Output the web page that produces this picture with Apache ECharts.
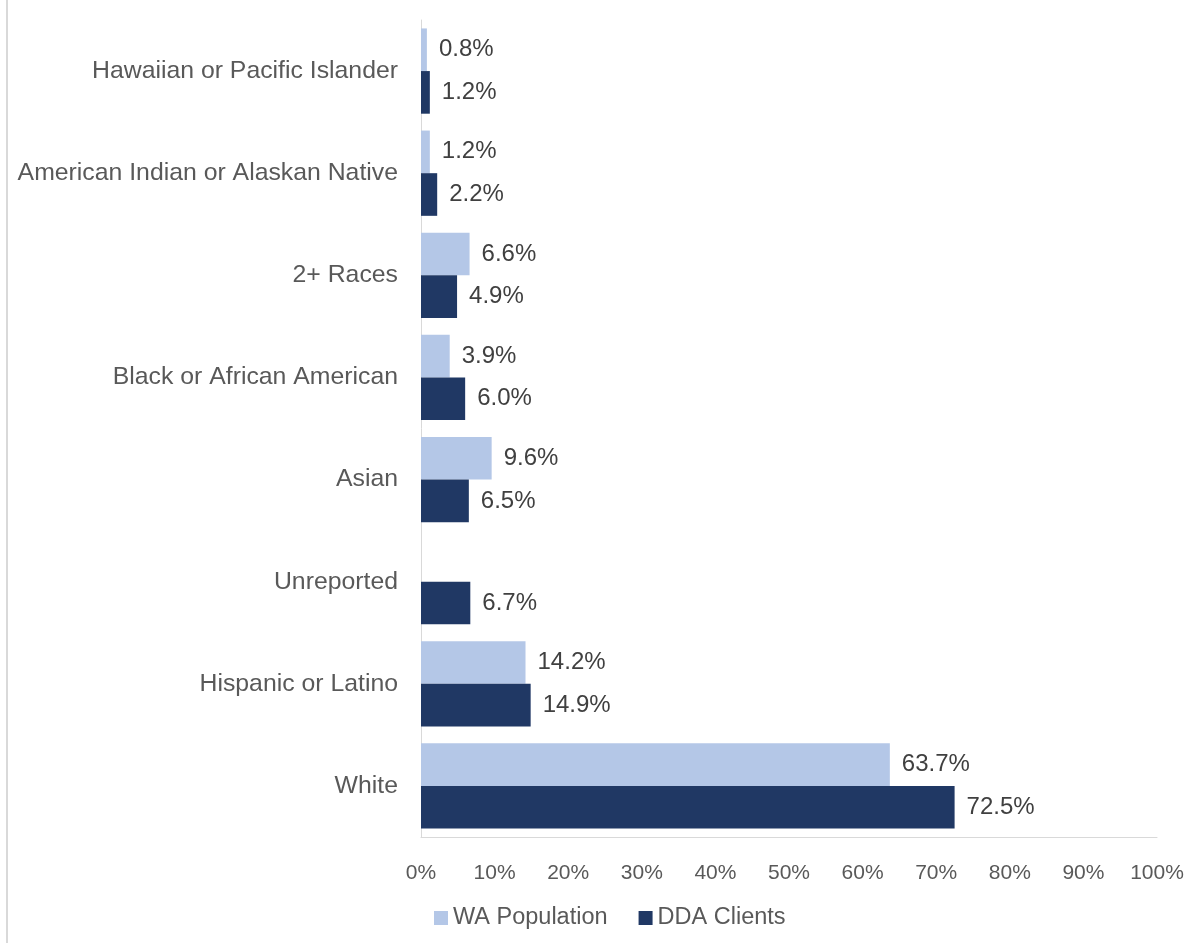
<!DOCTYPE html>
<html>
<head>
<meta charset="utf-8">
<script src="https://cdn.jsdelivr.net/npm/echarts@6/dist/echarts.min.js"></script>
<style>
  html, body { margin: 0; padding: 0; background: #fff; }
  #main { width: 1204px; height: 943px; }
</style>
</head>
<body>
<div id="main"></div>
<script>
// categories, top to bottom
var categories = ['Hawaiian or Pacific Islander', 'American Indian or Alaskan Native', '2+ Races',
  'Black or African American', 'Asian', 'Unreported', 'Hispanic or Latino', 'White'];
var waPopulation = [0.8, 1.2, 6.6, 3.9, 9.6, null, 14.2, 63.7];
var ddaClients = [1.2, 2.2, 4.9, 6.0, 6.5, 6.7, 14.9, 72.5];
var tickLabels = ['0%', '10%', '20%', '30%', '40%', '50%', '60%', '70%', '80%', '90%', '100%'];

var fontName = 'Liberation Sans';
var chart = echarts.init(document.getElementById('main'));

var labelStyle = {
    show: true,
    position: 'right',
    distance: 12,
    fontFamily: fontName,
    fontSize: 24,
    color: '#404040',
    formatter: function (p) { return p.value == null ? '' : p.value.toFixed(1) + '%'; }
};

var option = {
    backgroundColor: '#fff',
    animation: false,
    graphic: [{
        type: 'line',
        shape: { x1: 7, y1: 0, x2: 7, y2: 943 },
        style: { stroke: '#d9d9d9', lineWidth: 2 }
    }],
    legend: {
        top: 901,
        left: 429,
        itemWidth: 14,
        itemHeight: 14,
        itemGap: 31,
        icon: 'rect',
        textStyle: { fontFamily: fontName, fontSize: 23.5, color: '#595959' },
        data: ['WA Population', 'DDA Clients']
    },
    grid: { left: 421, right: 47, top: 20, bottom: 106, containLabel: false },
    xAxis: {
        type: 'value',
        min: 0,
        max: 100,
        interval: 10,
        axisLine: { show: true, lineStyle: { color: '#d9d9d9', width: 1 } },
        axisTick: { show: false },
        splitLine: { show: false },
        axisLabel: {
            margin: 26,
            fontFamily: fontName,
            fontSize: 21,
            color: '#595959',
            formatter: function (v) { return tickLabels[Math.round(v / 10)]; }
        }
    },
    yAxis: {
        type: 'category',
        inverse: true,
        data: categories,
        axisLine: { show: true, lineStyle: { color: '#d9d9d9', width: 1 } },
        axisTick: { show: false },
        axisLabel: {
            margin: 23,
            fontFamily: fontName,
            fontSize: 24.8,
            color: '#595959'
        }
    },
    series: [
        {
            name: 'WA Population',
            type: 'bar',
            data: waPopulation,
            barGap: 0,
            barCategoryGap: '16.5%',
            itemStyle: { color: '#b4c7e7' },
            label: labelStyle
        },
        {
            name: 'DDA Clients',
            type: 'bar',
            data: ddaClients,
            barGap: 0,
            barCategoryGap: '16.5%',
            itemStyle: { color: '#203864' },
            label: labelStyle
        }
    ]
};

chart.setOption(option);
</script>
</body>
</html>
